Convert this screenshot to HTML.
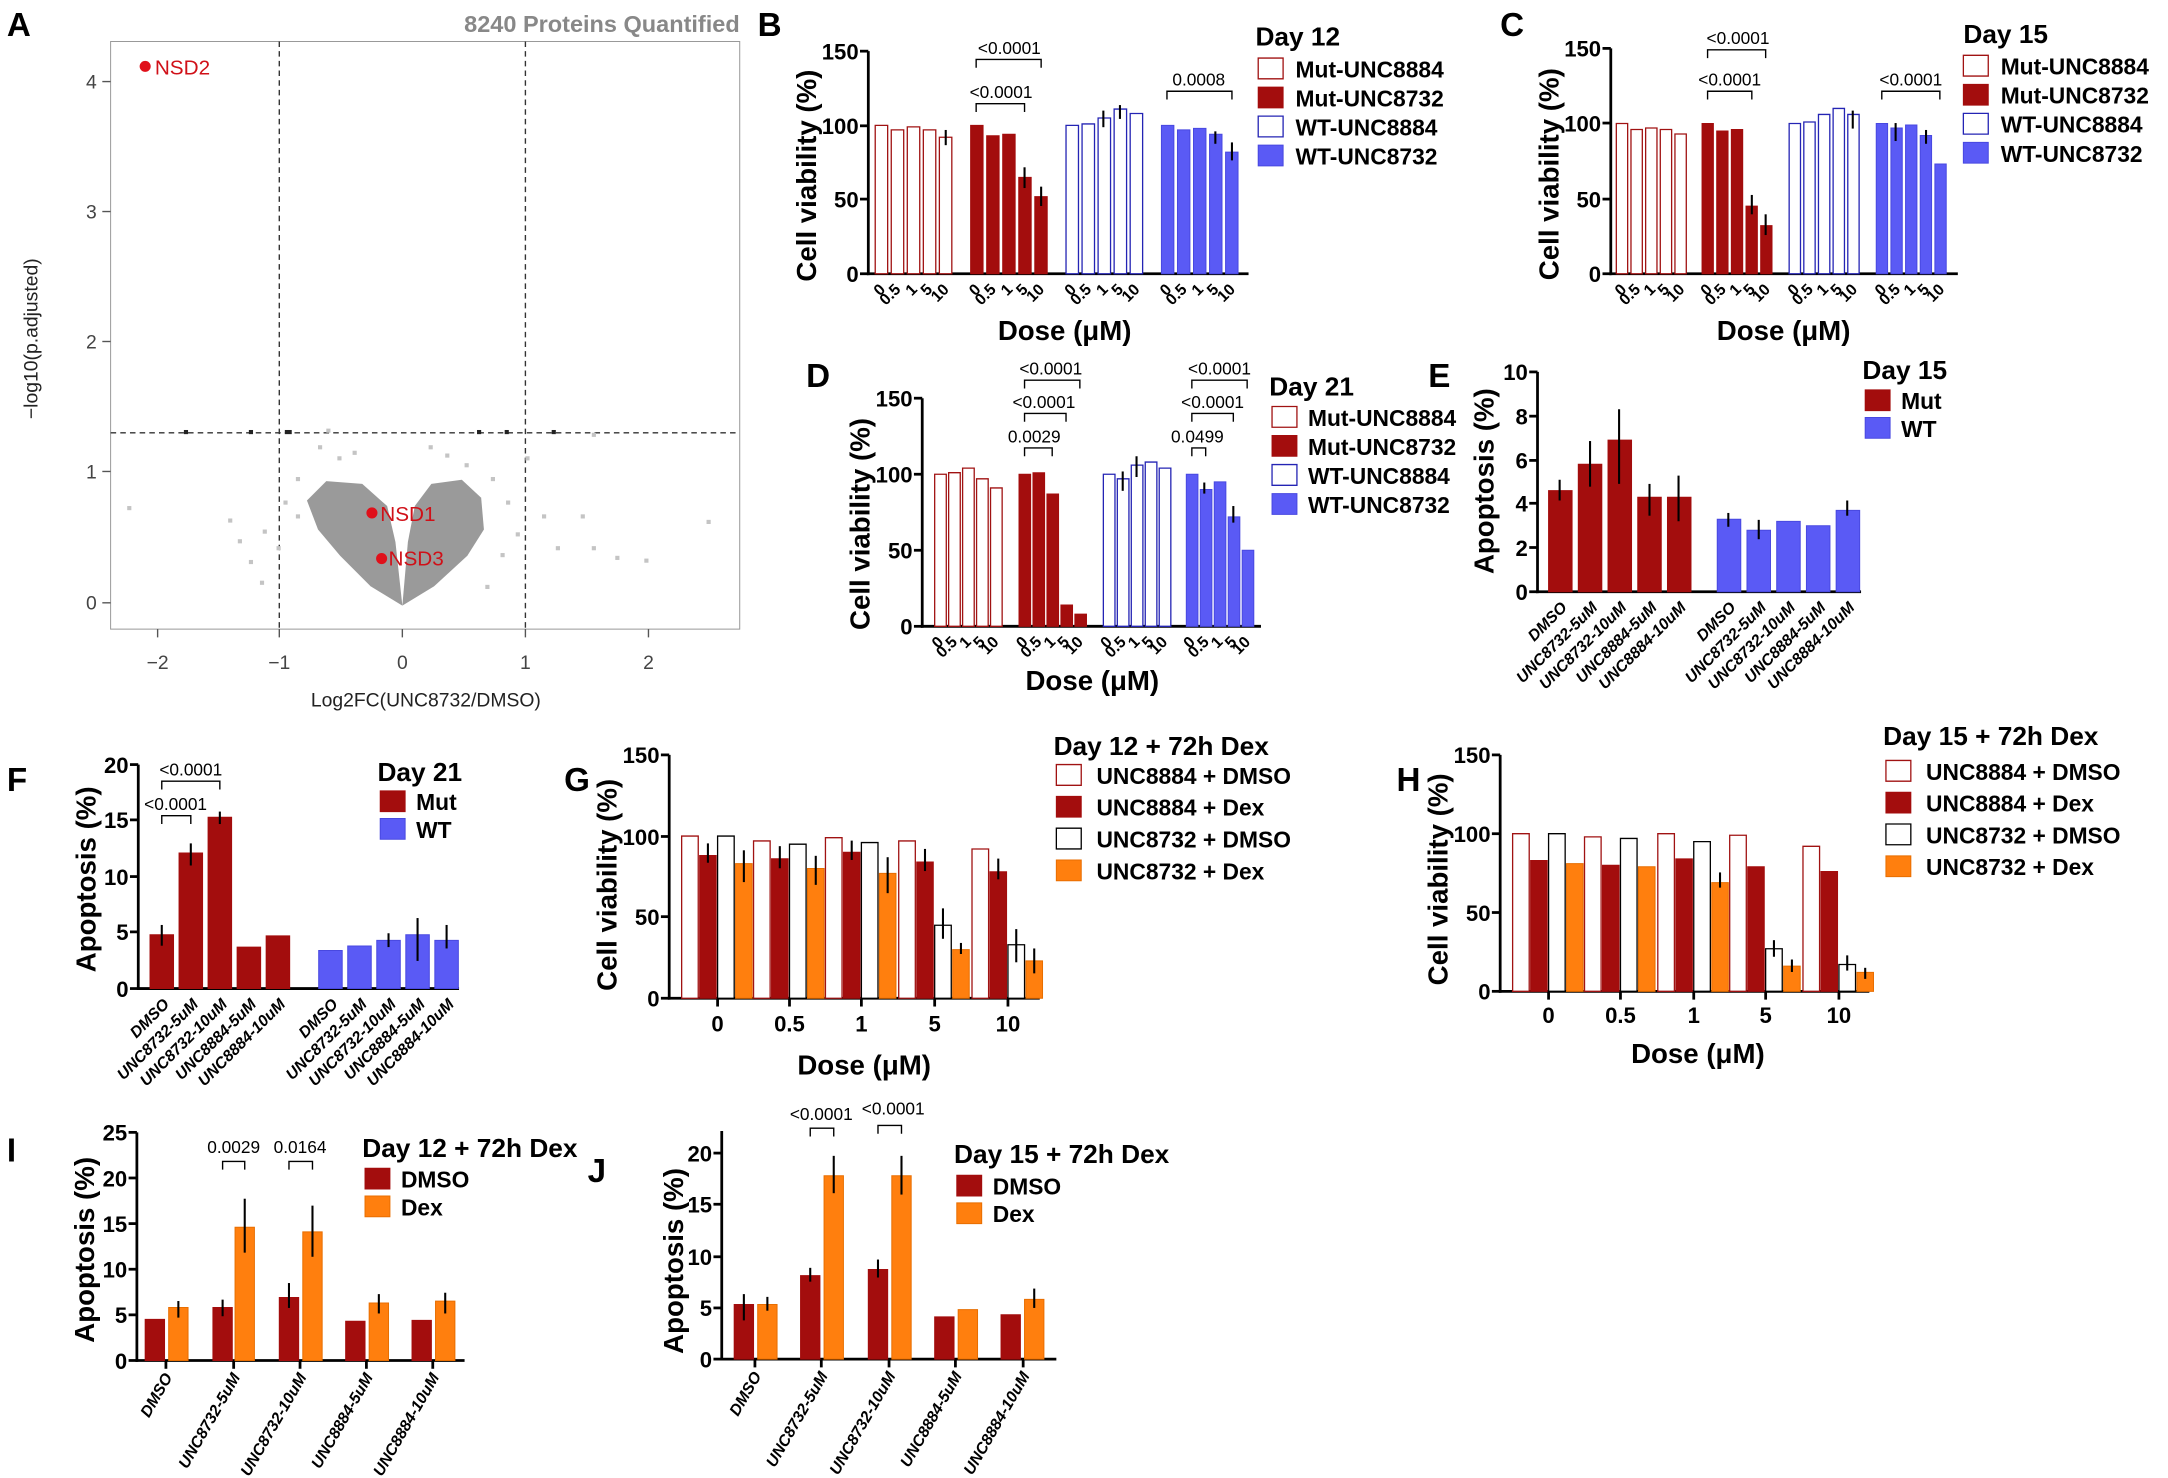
<!DOCTYPE html>
<html><head><meta charset="utf-8"><style>
body{margin:0;background:#fff}
svg{display:block}
text{font-family:"Liberation Sans",Arial,sans-serif}
.b{font-weight:bold}
.L{font-weight:bold;font-size:24px}
.ax{stroke:#000;stroke-width:2;fill:none}
.tk{font-weight:bold;font-size:16px}
.lg{font-weight:bold;font-size:16.5px}
.yl{font-weight:bold;font-size:20px}
.rl{font-weight:bold;font-size:11.5px}
.it{font-style:italic}
.st{font-size:12.5px}
rect{vector-effect:non-scaling-stroke}
.or{fill:#fff;stroke:#a01212;stroke-width:1.3}
.fr{fill:#a30d0d;stroke:#a30d0d;stroke-width:1}
.ob{fill:#fff;stroke:#2424b4;stroke-width:1.3}
.fb{fill:#5a5af5;stroke:#4848e0;stroke-width:1}
.ok{fill:#fff;stroke:#000;stroke-width:1.3}
.fo{fill:#ff7f0e;stroke:#e86e00;stroke-width:1}
.br{stroke:#000;stroke-width:1;fill:none}
</style></head><body>
<svg width="2168" height="1478" viewBox="0 0 1568 1069" preserveAspectRatio="none">
<rect width="1568" height="1069" fill="#fff"/>
<text class="L" x="5" y="26">A</text><text class="L" x="548" y="26">B</text><text class="L" x="1085" y="26">C</text>
<text class="L" x="583" y="280">D</text><text class="L" x="1033" y="280">E</text><text class="L" x="5" y="572">F</text>
<text class="L" x="408" y="572">G</text><text class="L" x="1010" y="572">H</text><text class="L" x="5" y="840">I</text><text class="L" x="425" y="855">J</text>

<!-- Panel A -->
<text x="535" y="23" text-anchor="end" font-size="17" font-weight="bold" fill="#888">8240 Proteins Quantified</text>
<rect x="80" y="30" width="455" height="425" fill="none" stroke="#999" stroke-width="1"/>
<g stroke="#333" stroke-width="1" stroke-dasharray="4,3">
<line x1="202" y1="30" x2="202" y2="455"/><line x1="380" y1="30" x2="380" y2="455"/><line x1="80" y1="313" x2="535" y2="313"/></g>
<g stroke="#555" stroke-width="1">
<line x1="74" y1="436" x2="80" y2="436"/><line x1="74" y1="341" x2="80" y2="341"/><line x1="74" y1="247" x2="80" y2="247"/><line x1="74" y1="153" x2="80" y2="153"/><line x1="74" y1="59" x2="80" y2="59"/>
<line x1="114" y1="455" x2="114" y2="461"/><line x1="202" y1="455" x2="202" y2="461"/><line x1="291" y1="455" x2="291" y2="461"/><line x1="380" y1="455" x2="380" y2="461"/><line x1="469" y1="455" x2="469" y2="461"/></g>
<g font-size="14" fill="#444" text-anchor="end"><text x="70" y="441">0</text><text x="70" y="346">1</text><text x="70" y="252">2</text><text x="70" y="158">3</text><text x="70" y="64">4</text></g>
<g font-size="14" fill="#444" text-anchor="middle"><text x="114" y="484">−2</text><text x="202" y="484">−1</text><text x="291" y="484">0</text><text x="380" y="484">1</text><text x="469" y="484">2</text></g>
<text x="308" y="511" font-size="14" text-anchor="middle" fill="#222">Log2FC(UNC8732/DMSO)</text>
<text transform="translate(27,245) rotate(-90)" font-size="14" text-anchor="middle" fill="#222">−log10(p.adjusted)</text>
<g fill="#c4c4c4">
<rect x="230" y="322" width="3" height="3"/><rect x="244" y="330" width="3" height="3"/><rect x="255" y="326" width="3" height="3"/><rect x="214" y="345" width="3" height="3"/><rect x="205" y="362" width="3" height="3"/><rect x="190" y="383" width="3" height="3"/><rect x="180" y="405" width="3" height="3"/><rect x="200" y="395" width="3" height="3"/><rect x="214" y="372" width="3" height="3"/><rect x="92" y="366" width="3" height="3"/><rect x="165" y="375" width="3" height="3"/><rect x="172" y="390" width="3" height="3"/><rect x="188" y="420" width="3" height="3"/>
<rect x="310" y="322" width="3" height="3"/><rect x="322" y="328" width="3" height="3"/><rect x="336" y="335" width="3" height="3"/><rect x="355" y="345" width="3" height="3"/><rect x="366" y="362" width="3" height="3"/><rect x="373" y="385" width="3" height="3"/><rect x="362" y="400" width="3" height="3"/><rect x="380" y="330" width="3" height="3"/><rect x="392" y="372" width="3" height="3"/><rect x="402" y="395" width="3" height="3"/><rect x="420" y="372" width="3" height="3"/><rect x="428" y="395" width="3" height="3"/><rect x="445" y="402" width="3" height="3"/><rect x="466" y="404" width="3" height="3"/><rect x="511" y="376" width="3" height="3"/><rect x="428" y="313" width="3" height="3"/><rect x="351" y="423" width="3" height="3"/><rect x="236" y="310" width="3" height="3"/>
</g>
<g fill="#9a9a9a">
<path d="M291,438 L268,424 L246,402 L230,383 L222,362 L236,348 L262,350 L280,366 L286,392 Z"/>
<path d="M291,438 L314,424 L338,402 L350,383 L348,360 L334,347 L312,350 L300,366 L295,392 Z"/>
</g>
<g fill="#222"><rect x="133" y="311" width="3" height="3"/><rect x="180" y="311" width="3" height="3"/><rect x="206" y="311" width="5" height="3"/><rect x="345" y="311" width="3" height="3"/><rect x="365" y="311" width="3" height="3"/><rect x="399" y="311" width="3" height="3"/></g>
<g fill="#e0101a"><circle cx="105" cy="48" r="4"/><circle cx="269" cy="371" r="4"/><circle cx="276" cy="404" r="4"/></g>
<g fill="#d01018" font-size="15"><text x="112" y="54">NSD2</text><text x="275" y="377">NSD1</text><text x="281" y="409">NSD3</text></g>

<!-- Panel B -->
<line class="ax" x1="628" y1="37" x2="628" y2="199"/><line class="ax" x1="627" y1="198" x2="903" y2="198"/>
<g stroke="#000" stroke-width="2"><line x1="622" y1="37" x2="628" y2="37"/><line x1="622" y1="91" x2="628" y2="91"/><line x1="622" y1="144" x2="628" y2="144"/><line x1="622" y1="198" x2="628" y2="198"/></g>
<g class="tk" text-anchor="end"><text x="621" y="43">150</text><text x="621" y="97">100</text><text x="621" y="150">50</text><text x="621" y="204">0</text></g>
<text class="yl" transform="translate(590,127) rotate(-90)" text-anchor="middle">Cell viability (%)</text>
<text class="yl" x="770" y="246" text-anchor="middle" font-size="17">Dose (μM)</text>
<g transform="translate(0,198) scale(1,-1.073)">
<rect class="or" x="633" y="0" width="9" height="100"/><rect class="or" x="644.6" y="0" width="9" height="97"/><rect class="or" x="656.2" y="0" width="9" height="99"/><rect class="or" x="667.8" y="0" width="9" height="97"/><rect class="or" x="679.4" y="0" width="9" height="92"/>
<rect class="fr" x="702" y="0" width="9" height="100"/><rect class="fr" x="713.6" y="0" width="9" height="93"/><rect class="fr" x="725.2" y="0" width="9" height="94"/><rect class="fr" x="736.8" y="0" width="9" height="65"/><rect class="fr" x="748.4" y="0" width="9" height="52"/>
<rect class="ob" x="771" y="0" width="9" height="100"/><rect class="ob" x="782.6" y="0" width="9" height="101"/><rect class="ob" x="794.2" y="0" width="9" height="105"/><rect class="ob" x="805.8" y="0" width="9" height="111"/><rect class="ob" x="817.4" y="0" width="9" height="108"/>
<rect class="fb" x="840" y="0" width="9" height="100"/><rect class="fb" x="851.6" y="0" width="9" height="97"/><rect class="fb" x="863.2" y="0" width="9" height="98"/><rect class="fb" x="874.8" y="0" width="9" height="94"/><rect class="fb" x="886.4" y="0" width="9" height="82"/>
</g>
<g stroke="#000" stroke-width="1.5"><line x1="741" y1="121" x2="741" y2="136"/><line x1="753" y1="135" x2="753" y2="149"/><line x1="891" y1="103" x2="891" y2="116"/><line x1="879" y1="95" x2="879" y2="104"/><line x1="684" y1="94" x2="684" y2="105"/><line x1="810" y1="76" x2="810" y2="86"/><line x1="798" y1="80" x2="798" y2="92"/></g>
<g class="br"><path d="M706,49 V43 H753 V49"/><path d="M706,81 V75 H741 V81"/><path d="M844,72 V66 H891 V72"/></g>
<g class="st" text-anchor="middle"><text x="730" y="39">&lt;0.0001</text><text x="724" y="71">&lt;0.0001</text><text x="867" y="62">0.0008</text></g>
<g class="rl" text-anchor="end">
<text transform="translate(641,210) rotate(-45)">0</text><text transform="translate(652,210) rotate(-45)">0.5</text><text transform="translate(664,210) rotate(-45)">1</text><text transform="translate(675,210) rotate(-45)">5</text><text transform="translate(687,210) rotate(-45)">10</text>
<text transform="translate(710,210) rotate(-45)">0</text><text transform="translate(721,210) rotate(-45)">0.5</text><text transform="translate(733,210) rotate(-45)">1</text><text transform="translate(744,210) rotate(-45)">5</text><text transform="translate(756,210) rotate(-45)">10</text>
<text transform="translate(779,210) rotate(-45)">0</text><text transform="translate(790,210) rotate(-45)">0.5</text><text transform="translate(802,210) rotate(-45)">1</text><text transform="translate(813,210) rotate(-45)">5</text><text transform="translate(825,210) rotate(-45)">10</text>
<text transform="translate(848,210) rotate(-45)">0</text><text transform="translate(859,210) rotate(-45)">0.5</text><text transform="translate(871,210) rotate(-45)">1</text><text transform="translate(882,210) rotate(-45)">5</text><text transform="translate(894,210) rotate(-45)">10</text>
</g>
<text class="b" x="908" y="33" font-size="19">Day 12</text>
<rect class="or" x="910" y="42" width="18" height="15"/><rect class="fr" x="910" y="63" width="18" height="15"/><rect class="ob" x="910" y="84" width="18" height="15"/><rect class="fb" x="910" y="105" width="18" height="15"/>
<g class="lg"><text x="937" y="56">Mut-UNC8884</text><text x="937" y="77">Mut-UNC8732</text><text x="937" y="98">WT-UNC8884</text><text x="937" y="119">WT-UNC8732</text></g>

<!-- Panel C -->
<line class="ax" x1="1165" y1="35" x2="1165" y2="199"/><line class="ax" x1="1164" y1="198" x2="1416" y2="198"/>
<g stroke="#000" stroke-width="2"><line x1="1159" y1="35" x2="1165" y2="35"/><line x1="1159" y1="89" x2="1165" y2="89"/><line x1="1159" y1="144" x2="1165" y2="144"/><line x1="1159" y1="198" x2="1165" y2="198"/></g>
<g class="tk" text-anchor="end"><text x="1158" y="41">150</text><text x="1158" y="95">100</text><text x="1158" y="150">50</text><text x="1158" y="204">0</text></g>
<text class="yl" transform="translate(1127,126) rotate(-90)" text-anchor="middle">Cell viability (%)</text>
<text class="yl" x="1290" y="246" text-anchor="middle" font-size="17">Dose (μM)</text>
<g transform="translate(0,198) scale(1,-1.087)">
<rect class="or" x="1169" y="0" width="8.2" height="100"/><rect class="or" x="1179.6" y="0" width="8.2" height="96"/><rect class="or" x="1190.2" y="0" width="8.2" height="97"/><rect class="or" x="1200.8" y="0" width="8.2" height="96"/><rect class="or" x="1211.4" y="0" width="8.2" height="93"/>
<rect class="fr" x="1231" y="0" width="8.2" height="100"/><rect class="fr" x="1241.6" y="0" width="8.2" height="95"/><rect class="fr" x="1252.2" y="0" width="8.2" height="96"/><rect class="fr" x="1262.8" y="0" width="8.2" height="45"/><rect class="fr" x="1273.4" y="0" width="8.2" height="32"/>
<rect class="ob" x="1294" y="0" width="8.2" height="100"/><rect class="ob" x="1304.6" y="0" width="8.2" height="101"/><rect class="ob" x="1315.2" y="0" width="8.2" height="106"/><rect class="ob" x="1325.8" y="0" width="8.2" height="110"/><rect class="ob" x="1336.4" y="0" width="8.2" height="106"/>
<rect class="fb" x="1357" y="0" width="8.2" height="100"/><rect class="fb" x="1367.6" y="0" width="8.2" height="97"/><rect class="fb" x="1378.2" y="0" width="8.2" height="99"/><rect class="fb" x="1388.8" y="0" width="8.2" height="92"/><rect class="fb" x="1399.4" y="0" width="8.2" height="73"/>
</g>
<g stroke="#000" stroke-width="1.5"><line x1="1267" y1="141" x2="1267" y2="155"/><line x1="1277" y1="155" x2="1277" y2="170"/><line x1="1340" y1="80" x2="1340" y2="93"/><line x1="1371" y1="89" x2="1371" y2="102"/><line x1="1393" y1="94" x2="1393" y2="104"/></g>
<g class="br"><path d="M1235,42 V36 H1277 V42"/><path d="M1235,72 V66 H1267 V72"/><path d="M1361,72 V66 H1403 V72"/></g>
<g class="st" text-anchor="middle"><text x="1257" y="32">&lt;0.0001</text><text x="1251" y="62">&lt;0.0001</text><text x="1382" y="62">&lt;0.0001</text></g>
<g class="rl" text-anchor="end">
<text transform="translate(1177,210) rotate(-45)">0</text><text transform="translate(1187,210) rotate(-45)">0.5</text><text transform="translate(1198,210) rotate(-45)">1</text><text transform="translate(1208,210) rotate(-45)">5</text><text transform="translate(1219,210) rotate(-45)">10</text>
<text transform="translate(1239,210) rotate(-45)">0</text><text transform="translate(1249,210) rotate(-45)">0.5</text><text transform="translate(1260,210) rotate(-45)">1</text><text transform="translate(1270,210) rotate(-45)">5</text><text transform="translate(1281,210) rotate(-45)">10</text>
<text transform="translate(1302,210) rotate(-45)">0</text><text transform="translate(1312,210) rotate(-45)">0.5</text><text transform="translate(1323,210) rotate(-45)">1</text><text transform="translate(1333,210) rotate(-45)">5</text><text transform="translate(1344,210) rotate(-45)">10</text>
<text transform="translate(1365,210) rotate(-45)">0</text><text transform="translate(1375,210) rotate(-45)">0.5</text><text transform="translate(1386,210) rotate(-45)">1</text><text transform="translate(1396,210) rotate(-45)">5</text><text transform="translate(1407,210) rotate(-45)">10</text>
</g>
<text class="b" x="1420" y="31" font-size="19">Day 15</text>
<rect class="or" x="1420" y="40" width="18" height="15"/><rect class="fr" x="1420" y="61" width="18" height="15"/><rect class="ob" x="1420" y="82" width="18" height="15"/><rect class="fb" x="1420" y="103" width="18" height="15"/>
<g class="lg"><text x="1447" y="54">Mut-UNC8884</text><text x="1447" y="75">Mut-UNC8732</text><text x="1447" y="96">WT-UNC8884</text><text x="1447" y="117">WT-UNC8732</text></g>

<!-- Panel D -->
<line class="ax" x1="667" y1="288" x2="667" y2="454"/><line class="ax" x1="666" y1="453" x2="912" y2="453"/>
<g stroke="#000" stroke-width="2"><line x1="661" y1="288" x2="667" y2="288"/><line x1="661" y1="343" x2="667" y2="343"/><line x1="661" y1="398" x2="667" y2="398"/><line x1="661" y1="453" x2="667" y2="453"/></g>
<g class="tk" text-anchor="end"><text x="660" y="294">150</text><text x="660" y="349">100</text><text x="660" y="404">50</text><text x="660" y="459">0</text></g>
<text class="yl" transform="translate(629,379) rotate(-90)" text-anchor="middle">Cell viability (%)</text>
<text class="yl" x="790" y="499" text-anchor="middle" font-size="17">Dose (μM)</text>
<g transform="translate(0,453) scale(1,-1.1)">
<rect class="or" x="676" y="0" width="8.4" height="100"/><rect class="or" x="686.1" y="0" width="8.4" height="101"/><rect class="or" x="696.2" y="0" width="8.4" height="104"/><rect class="or" x="706.3" y="0" width="8.4" height="97"/><rect class="or" x="716.4" y="0" width="8.4" height="91"/>
<rect class="fr" x="737" y="0" width="8.4" height="100"/><rect class="fr" x="747.1" y="0" width="8.4" height="101"/><rect class="fr" x="757.2" y="0" width="8.4" height="87"/><rect class="fr" x="767.3" y="0" width="8.4" height="14"/><rect class="fr" x="777.4" y="0" width="8.4" height="8"/>
<rect class="ob" x="798" y="0" width="8.4" height="100"/><rect class="ob" x="808.1" y="0" width="8.4" height="97"/><rect class="ob" x="818.2" y="0" width="8.4" height="106"/><rect class="ob" x="828.3" y="0" width="8.4" height="108"/><rect class="ob" x="838.4" y="0" width="8.4" height="104"/>
<rect class="fb" x="858" y="0" width="8.4" height="100"/><rect class="fb" x="868.1" y="0" width="8.4" height="90"/><rect class="fb" x="878.2" y="0" width="8.4" height="95"/><rect class="fb" x="888.3" y="0" width="8.4" height="72"/><rect class="fb" x="898.4" y="0" width="8.4" height="50"/>
</g>
<g stroke="#000" stroke-width="1.5"><line x1="892" y1="366" x2="892" y2="378"/><line x1="822" y1="330" x2="822" y2="345"/><line x1="812" y1="341" x2="812" y2="355"/><line x1="871" y1="349" x2="871" y2="357"/></g>
<g class="br"><path d="M741,281 V275 H781 V281"/><path d="M741,305 V299 H771 V305"/><path d="M741,330 V324 H761 V330"/><path d="M862,281 V275 H902 V281"/><path d="M862,305 V299 H892 V305"/><path d="M862,330 V324 H872 V330"/></g>
<g class="st" text-anchor="middle"><text x="760" y="271">&lt;0.0001</text><text x="755" y="295">&lt;0.0001</text><text x="748" y="320">0.0029</text><text x="882" y="271">&lt;0.0001</text><text x="877" y="295">&lt;0.0001</text><text x="866" y="320">0.0499</text></g>
<g class="rl" text-anchor="end">
<text transform="translate(683,465) rotate(-45)">0</text><text transform="translate(693,465) rotate(-45)">0.5</text><text transform="translate(703,465) rotate(-45)">1</text><text transform="translate(713,465) rotate(-45)">5</text><text transform="translate(723,465) rotate(-45)">10</text>
<text transform="translate(744,465) rotate(-45)">0</text><text transform="translate(754,465) rotate(-45)">0.5</text><text transform="translate(764,465) rotate(-45)">1</text><text transform="translate(774,465) rotate(-45)">5</text><text transform="translate(784,465) rotate(-45)">10</text>
<text transform="translate(805,465) rotate(-45)">0</text><text transform="translate(815,465) rotate(-45)">0.5</text><text transform="translate(825,465) rotate(-45)">1</text><text transform="translate(835,465) rotate(-45)">5</text><text transform="translate(845,465) rotate(-45)">10</text>
<text transform="translate(865,465) rotate(-45)">0</text><text transform="translate(875,465) rotate(-45)">0.5</text><text transform="translate(885,465) rotate(-45)">1</text><text transform="translate(895,465) rotate(-45)">5</text><text transform="translate(905,465) rotate(-45)">10</text>
</g>
<text class="b" x="918" y="286" font-size="19">Day 21</text>
<rect class="or" x="920" y="294" width="18" height="15"/><rect class="fr" x="920" y="315" width="18" height="15"/><rect class="ob" x="920" y="336" width="18" height="15"/><rect class="fb" x="920" y="357" width="18" height="15"/>
<g class="lg"><text x="946" y="308">Mut-UNC8884</text><text x="946" y="329">Mut-UNC8732</text><text x="946" y="350">WT-UNC8884</text><text x="946" y="371">WT-UNC8732</text></g>

<!-- Panel E -->
<line class="ax" x1="1112" y1="269" x2="1112" y2="429"/><line class="ax" x1="1111" y1="428" x2="1346" y2="428"/>
<g stroke="#000" stroke-width="2"><line x1="1106" y1="269" x2="1112" y2="269"/><line x1="1106" y1="301" x2="1112" y2="301"/><line x1="1106" y1="333" x2="1112" y2="333"/><line x1="1106" y1="364" x2="1112" y2="364"/><line x1="1106" y1="396" x2="1112" y2="396"/><line x1="1106" y1="428" x2="1112" y2="428"/></g>
<g class="tk" text-anchor="end"><text x="1105" y="275">10</text><text x="1105" y="307">8</text><text x="1105" y="339">6</text><text x="1105" y="370">4</text><text x="1105" y="402">2</text><text x="1105" y="434">0</text></g>
<text class="yl" transform="translate(1080,348) rotate(-90)" text-anchor="middle">Apoptosis (%)</text>
<g transform="translate(0,428) scale(1,-15.9)">
<rect class="fr" x="1120" y="0" width="17" height="4.6"/><rect class="fr" x="1141.5" y="0" width="17" height="5.8"/><rect class="fr" x="1163" y="0" width="17" height="6.9"/><rect class="fr" x="1184.5" y="0" width="17" height="4.3"/><rect class="fr" x="1206" y="0" width="17" height="4.3"/>
<rect class="fb" x="1242" y="0" width="17" height="3.3"/><rect class="fb" x="1263.5" y="0" width="17" height="2.8"/><rect class="fb" x="1285" y="0" width="17" height="3.2"/><rect class="fb" x="1306.5" y="0" width="17" height="3.0"/><rect class="fb" x="1328" y="0" width="17" height="3.7"/>
</g>
<g stroke="#000" stroke-width="1.5"><line x1="1128" y1="347" x2="1128" y2="362"/><line x1="1150" y1="319" x2="1150" y2="352"/><line x1="1171" y1="296" x2="1171" y2="350"/><line x1="1193" y1="350" x2="1193" y2="373"/><line x1="1214" y1="344" x2="1214" y2="377"/><line x1="1272" y1="376" x2="1272" y2="390"/><line x1="1250" y1="371" x2="1250" y2="381"/><line x1="1336" y1="362" x2="1336" y2="373"/></g>
<g class="rl it" text-anchor="end">
<text transform="translate(1134,440) rotate(-45)">DMSO</text><text transform="translate(1156,440) rotate(-45)">UNC8732-5uM</text><text transform="translate(1177,440) rotate(-45)">UNC8732-10uM</text><text transform="translate(1199,440) rotate(-45)">UNC8884-5uM</text><text transform="translate(1220,440) rotate(-45)">UNC8884-10uM</text>
<text transform="translate(1256,440) rotate(-45)">DMSO</text><text transform="translate(1278,440) rotate(-45)">UNC8732-5uM</text><text transform="translate(1299,440) rotate(-45)">UNC8732-10uM</text><text transform="translate(1321,440) rotate(-45)">UNC8884-5uM</text><text transform="translate(1342,440) rotate(-45)">UNC8884-10uM</text>
</g>
<text class="b" x="1347" y="274" font-size="19">Day 15</text>
<rect class="fr" x="1349" y="282" width="18" height="15"/><rect class="fb" x="1349" y="302" width="18" height="15"/>
<g class="lg"><text x="1375" y="296">Mut</text><text x="1375" y="316">WT</text></g>

<!-- Panel F -->
<line class="ax" x1="100" y1="553" x2="100" y2="716"/><line class="ax" x1="99" y1="715" x2="332" y2="715"/>
<g stroke="#000" stroke-width="2"><line x1="94" y1="553" x2="100" y2="553"/><line x1="94" y1="593" x2="100" y2="593"/><line x1="94" y1="634" x2="100" y2="634"/><line x1="94" y1="674" x2="100" y2="674"/><line x1="94" y1="715" x2="100" y2="715"/></g>
<g class="tk" text-anchor="end"><text x="93" y="559">20</text><text x="93" y="599">15</text><text x="93" y="640">10</text><text x="93" y="680">5</text><text x="93" y="721">0</text></g>
<text class="yl" transform="translate(69,636) rotate(-90)" text-anchor="middle">Apoptosis (%)</text>
<g transform="translate(0,715) scale(1,-8.1)">
<rect class="fr" x="108.5" y="0" width="17" height="4.8"/><rect class="fr" x="129.5" y="0" width="17" height="12.1"/><rect class="fr" x="150.5" y="0" width="17" height="15.3"/><rect class="fr" x="171.5" y="0" width="17" height="3.7"/><rect class="fr" x="192.5" y="0" width="17" height="4.7"/>
<rect class="fb" x="230.5" y="0" width="17" height="3.4"/><rect class="fb" x="251.5" y="0" width="17" height="3.8"/><rect class="fb" x="272.5" y="0" width="17" height="4.3"/><rect class="fb" x="293.5" y="0" width="17" height="4.8"/><rect class="fb" x="314.5" y="0" width="17" height="4.3"/>
</g>
<g stroke="#000" stroke-width="1.5"><line x1="117" y1="669" x2="117" y2="684"/><line x1="138" y1="610" x2="138" y2="626"/><line x1="159" y1="587" x2="159" y2="596"/><line x1="302" y1="664" x2="302" y2="695"/><line x1="323" y1="669" x2="323" y2="686"/><line x1="281" y1="675" x2="281" y2="685"/></g>
<g class="br"><path d="M117,571 V565 H159 V571"/><path d="M117,596 V590 H138 V596"/></g>
<g class="st" text-anchor="middle"><text x="138" y="561">&lt;0.0001</text><text x="127" y="586">&lt;0.0001</text></g>
<g class="rl it" text-anchor="end">
<text transform="translate(123,727) rotate(-45)">DMSO</text><text transform="translate(144,727) rotate(-45)">UNC8732-5uM</text><text transform="translate(165,727) rotate(-45)">UNC8732-10uM</text><text transform="translate(186,727) rotate(-45)">UNC8884-5uM</text><text transform="translate(207,727) rotate(-45)">UNC8884-10uM</text>
<text transform="translate(245,727) rotate(-45)">DMSO</text><text transform="translate(266,727) rotate(-45)">UNC8732-5uM</text><text transform="translate(287,727) rotate(-45)">UNC8732-10uM</text><text transform="translate(308,727) rotate(-45)">UNC8884-5uM</text><text transform="translate(329,727) rotate(-45)">UNC8884-10uM</text>
</g>
<text class="b" x="273" y="565" font-size="19">Day 21</text>
<rect class="fr" x="275" y="572" width="18" height="15"/><rect class="fb" x="275" y="592" width="18" height="15"/>
<g class="lg"><text x="301" y="586">Mut</text><text x="301" y="606">WT</text></g>

<!-- Panel G -->
<line class="ax" x1="484" y1="546" x2="484" y2="723"/><line class="ax" x1="483" y1="722" x2="752" y2="722"/>
<g stroke="#000" stroke-width="2"><line x1="478" y1="546" x2="484" y2="546"/><line x1="478" y1="605" x2="484" y2="605"/><line x1="478" y1="663" x2="484" y2="663"/><line x1="478" y1="722" x2="484" y2="722"/>
<line x1="519" y1="722" x2="519" y2="728"/><line x1="571" y1="722" x2="571" y2="728"/><line x1="623" y1="722" x2="623" y2="728"/><line x1="676" y1="722" x2="676" y2="728"/><line x1="729" y1="722" x2="729" y2="728"/></g>
<g class="tk" text-anchor="end"><text x="477" y="552">150</text><text x="477" y="611">100</text><text x="477" y="669">50</text><text x="477" y="728">0</text></g>
<g class="tk" text-anchor="middle" font-size="13"><text x="519" y="746">0</text><text x="571" y="746">0.5</text><text x="623" y="746">1</text><text x="676" y="746">5</text><text x="729" y="746">10</text></g>
<text class="yl" transform="translate(446,640) rotate(-90)" text-anchor="middle">Cell viability (%)</text>
<text class="yl" x="625" y="777" text-anchor="middle" font-size="17">Dose (μM)</text>
<g transform="translate(0,722) scale(1,-1.173)">
<rect class="or" x="493" y="0" width="12" height="100"/><rect class="fr" x="506" y="0" width="12" height="88"/><rect class="ok" x="519" y="0" width="12" height="100"/><rect class="fo" x="532" y="0" width="12" height="83"/>
<rect class="or" x="545" y="0" width="12" height="97"/><rect class="fr" x="558" y="0" width="12" height="86"/><rect class="ok" x="571" y="0" width="12" height="95"/><rect class="fo" x="584" y="0" width="12" height="80"/>
<rect class="or" x="597" y="0" width="12" height="99"/><rect class="fr" x="610" y="0" width="12" height="90"/><rect class="ok" x="623" y="0" width="12" height="96"/><rect class="fo" x="636" y="0" width="12" height="77"/>
<rect class="or" x="650" y="0" width="12" height="97"/><rect class="fr" x="663" y="0" width="12" height="84"/><rect class="ok" x="676" y="0" width="12" height="45"/><rect class="fo" x="689" y="0" width="12" height="30"/>
<rect class="or" x="703" y="0" width="12" height="92"/><rect class="fr" x="716" y="0" width="12" height="78"/><rect class="ok" x="729" y="0" width="12" height="33"/><rect class="fo" x="742" y="0" width="12" height="23"/>
</g>
<g stroke="#000" stroke-width="1.5"><line x1="512" y1="610" x2="512" y2="624"/><line x1="538" y1="615" x2="538" y2="638"/><line x1="590" y1="619" x2="590" y2="640"/><line x1="642" y1="620" x2="642" y2="646"/><line x1="682" y1="657" x2="682" y2="679"/><line x1="695" y1="682" x2="695" y2="690"/><line x1="735" y1="672" x2="735" y2="696"/><line x1="748" y1="686" x2="748" y2="704"/><line x1="564" y1="612" x2="564" y2="628"/><line x1="616" y1="608" x2="616" y2="622"/><line x1="669" y1="614" x2="669" y2="630"/><line x1="722" y1="621" x2="722" y2="636"/></g>
<text class="b" x="762" y="546" font-size="19">Day 12 + 72h Dex</text>
<rect class="or" x="764" y="553" width="18" height="15"/><rect class="fr" x="764" y="576" width="18" height="15"/><rect class="ok" x="764" y="599" width="18" height="15"/><rect class="fo" x="764" y="622" width="18" height="15"/>
<g class="lg"><text x="793" y="567">UNC8884 + DMSO</text><text x="793" y="590">UNC8884 + Dex</text><text x="793" y="613">UNC8732 + DMSO</text><text x="793" y="636">UNC8732 + Dex</text></g>

<!-- Panel H -->
<line class="ax" x1="1085" y1="546" x2="1085" y2="718"/><line class="ax" x1="1084" y1="717" x2="1352" y2="717"/>
<g stroke="#000" stroke-width="2"><line x1="1079" y1="546" x2="1085" y2="546"/><line x1="1079" y1="603" x2="1085" y2="603"/><line x1="1079" y1="660" x2="1085" y2="660"/><line x1="1079" y1="717" x2="1085" y2="717"/>
<line x1="1120" y1="717" x2="1120" y2="723"/><line x1="1172" y1="717" x2="1172" y2="723"/><line x1="1225" y1="717" x2="1225" y2="723"/><line x1="1277" y1="717" x2="1277" y2="723"/><line x1="1330" y1="717" x2="1330" y2="723"/></g>
<g class="tk" text-anchor="end"><text x="1078" y="552">150</text><text x="1078" y="609">100</text><text x="1078" y="666">50</text><text x="1078" y="723">0</text></g>
<g class="tk" text-anchor="middle" font-size="13"><text x="1120" y="740">0</text><text x="1172" y="740">0.5</text><text x="1225" y="740">1</text><text x="1277" y="740">5</text><text x="1330" y="740">10</text></g>
<text class="yl" transform="translate(1047,636) rotate(-90)" text-anchor="middle">Cell viability (%)</text>
<text class="yl" x="1228" y="769" text-anchor="middle" font-size="17">Dose (μM)</text>
<g transform="translate(0,717) scale(1,-1.14)">
<rect class="or" x="1094" y="0" width="12" height="100"/><rect class="fr" x="1107" y="0" width="12" height="83"/><rect class="ok" x="1120" y="0" width="12" height="100"/><rect class="fo" x="1133" y="0" width="12" height="81"/>
<rect class="or" x="1146" y="0" width="12" height="98"/><rect class="fr" x="1159" y="0" width="12" height="80"/><rect class="ok" x="1172" y="0" width="12" height="97"/><rect class="fo" x="1185" y="0" width="12" height="79"/>
<rect class="or" x="1199" y="0" width="12" height="100"/><rect class="fr" x="1212" y="0" width="12" height="84"/><rect class="ok" x="1225" y="0" width="12" height="95"/><rect class="fo" x="1238" y="0" width="12" height="69"/>
<rect class="or" x="1251" y="0" width="12" height="99"/><rect class="fr" x="1264" y="0" width="12" height="79"/><rect class="ok" x="1277" y="0" width="12" height="27"/><rect class="fo" x="1290" y="0" width="12" height="16"/>
<rect class="or" x="1304" y="0" width="12" height="92"/><rect class="fr" x="1317" y="0" width="12" height="76"/><rect class="ok" x="1330" y="0" width="12" height="17"/><rect class="fo" x="1343" y="0" width="12" height="12"/>
</g>
<g stroke="#000" stroke-width="1.5"><line x1="1244" y1="631" x2="1244" y2="642"/><line x1="1283" y1="680" x2="1283" y2="692"/><line x1="1296" y1="694" x2="1296" y2="703"/><line x1="1336" y1="691" x2="1336" y2="702"/><line x1="1349" y1="700" x2="1349" y2="708"/></g>
<text class="b" x="1362" y="539" font-size="19">Day 15 + 72h Dex</text>
<rect class="or" x="1364" y="550" width="18" height="15"/><rect class="fr" x="1364" y="573" width="18" height="15"/><rect class="ok" x="1364" y="596" width="18" height="15"/><rect class="fo" x="1364" y="619" width="18" height="15"/>
<g class="lg"><text x="1393" y="564">UNC8884 + DMSO</text><text x="1393" y="587">UNC8884 + Dex</text><text x="1393" y="610">UNC8732 + DMSO</text><text x="1393" y="633">UNC8732 + Dex</text></g>

<!-- Panel I -->
<line class="ax" x1="99" y1="819" x2="99" y2="985"/><line class="ax" x1="98" y1="984" x2="336" y2="984"/>
<g stroke="#000" stroke-width="2"><line x1="93" y1="819" x2="99" y2="819"/><line x1="93" y1="852" x2="99" y2="852"/><line x1="93" y1="885" x2="99" y2="885"/><line x1="93" y1="918" x2="99" y2="918"/><line x1="93" y1="951" x2="99" y2="951"/><line x1="93" y1="984" x2="99" y2="984"/>
<line x1="120" y1="984" x2="120" y2="990"/><line x1="169" y1="984" x2="169" y2="990"/><line x1="217" y1="984" x2="217" y2="990"/><line x1="265" y1="984" x2="265" y2="990"/><line x1="313" y1="984" x2="313" y2="990"/></g>
<g class="tk" text-anchor="end"><text x="92" y="825">25</text><text x="92" y="858">20</text><text x="92" y="891">15</text><text x="92" y="924">10</text><text x="92" y="957">5</text><text x="92" y="990">0</text></g>
<text class="yl" transform="translate(68,904) rotate(-90)" text-anchor="middle">Apoptosis (%)</text>
<g transform="translate(0,984) scale(1,-6.6)">
<rect class="fr" x="105" y="0" width="14" height="4.5"/><rect class="fo" x="122" y="0" width="14" height="5.8"/>
<rect class="fr" x="154" y="0" width="14" height="5.8"/><rect class="fo" x="170" y="0" width="14" height="14.6"/>
<rect class="fr" x="202" y="0" width="14" height="6.9"/><rect class="fo" x="219" y="0" width="14" height="14.1"/>
<rect class="fr" x="250" y="0" width="14" height="4.3"/><rect class="fo" x="267" y="0" width="14" height="6.3"/>
<rect class="fr" x="298" y="0" width="14" height="4.4"/><rect class="fo" x="315" y="0" width="14" height="6.5"/>
</g>
<g stroke="#000" stroke-width="1.5"><line x1="177" y1="867" x2="177" y2="906"/><line x1="226" y1="872" x2="226" y2="909"/><line x1="209" y1="928" x2="209" y2="946"/><line x1="161" y1="940" x2="161" y2="952"/><line x1="129" y1="941" x2="129" y2="953"/><line x1="274" y1="936" x2="274" y2="950"/><line x1="322" y1="935" x2="322" y2="950"/></g>
<g class="br"><path d="M161,846 V840 H177 V846"/><path d="M209,846 V840 H226 V846"/></g>
<g class="st" text-anchor="middle"><text x="169" y="834">0.0029</text><text x="217" y="834">0.0164</text></g>
<g class="rl it" text-anchor="end">
<text transform="translate(125,996) rotate(-60)">DMSO</text><text transform="translate(174,996) rotate(-60)">UNC8732-5uM</text><text transform="translate(222,996) rotate(-60)">UNC8732-10uM</text><text transform="translate(270,996) rotate(-60)">UNC8884-5uM</text><text transform="translate(318,996) rotate(-60)">UNC8884-10uM</text>
</g>
<text class="b" x="262" y="837" font-size="19">Day 12 + 72h Dex</text>
<rect class="fr" x="264" y="845" width="18" height="15"/><rect class="fo" x="264" y="865" width="18" height="15"/>
<g class="lg"><text x="290" y="859">DMSO</text><text x="290" y="879">Dex</text></g>

<!-- Panel J -->
<line class="ax" x1="522" y1="818" x2="522" y2="984"/><line class="ax" x1="521" y1="983" x2="764" y2="983"/>
<g stroke="#000" stroke-width="2"><line x1="516" y1="834" x2="522" y2="834"/><line x1="516" y1="871" x2="522" y2="871"/><line x1="516" y1="909" x2="522" y2="909"/><line x1="516" y1="946" x2="522" y2="946"/><line x1="516" y1="983" x2="522" y2="983"/>
<line x1="546" y1="983" x2="546" y2="989"/><line x1="594" y1="983" x2="594" y2="989"/><line x1="643" y1="983" x2="643" y2="989"/><line x1="691" y1="983" x2="691" y2="989"/><line x1="740" y1="983" x2="740" y2="989"/></g>
<g class="tk" text-anchor="end"><text x="515" y="840">20</text><text x="515" y="877">15</text><text x="515" y="915">10</text><text x="515" y="952">5</text><text x="515" y="989">0</text></g>
<text class="yl" transform="translate(494,912) rotate(-90)" text-anchor="middle">Apoptosis (%)</text>
<g transform="translate(0,983) scale(1,-7.45)">
<rect class="fr" x="531" y="0" width="14" height="5.3"/><rect class="fo" x="548" y="0" width="14" height="5.3"/>
<rect class="fr" x="579" y="0" width="14" height="8.1"/><rect class="fo" x="596" y="0" width="14" height="17.8"/>
<rect class="fr" x="628" y="0" width="14" height="8.7"/><rect class="fo" x="645" y="0" width="14" height="17.8"/>
<rect class="fr" x="676" y="0" width="14" height="4.1"/><rect class="fo" x="693" y="0" width="14" height="4.8"/>
<rect class="fr" x="724" y="0" width="14" height="4.3"/><rect class="fo" x="741" y="0" width="14" height="5.8"/>
</g>
<g stroke="#000" stroke-width="1.5"><line x1="538" y1="936" x2="538" y2="955"/><line x1="603" y1="836" x2="603" y2="863"/><line x1="652" y1="836" x2="652" y2="864"/><line x1="635" y1="911" x2="635" y2="924"/><line x1="586" y1="917" x2="586" y2="927"/><line x1="555" y1="938" x2="555" y2="948"/><line x1="748" y1="932" x2="748" y2="946"/></g>
<g class="br"><path d="M586,822 V816 H603 V822"/><path d="M635,820 V814 H652 V820"/></g>
<g class="st" text-anchor="middle"><text x="594" y="810">&lt;0.0001</text><text x="646" y="806">&lt;0.0001</text></g>
<g class="rl it" text-anchor="end">
<text transform="translate(551,995) rotate(-60)">DMSO</text><text transform="translate(599,995) rotate(-60)">UNC8732-5uM</text><text transform="translate(648,995) rotate(-60)">UNC8732-10uM</text><text transform="translate(696,995) rotate(-60)">UNC8884-5uM</text><text transform="translate(745,995) rotate(-60)">UNC8884-10uM</text>
</g>
<text class="b" x="690" y="841" font-size="19">Day 15 + 72h Dex</text>
<rect class="fr" x="692" y="850" width="18" height="15"/><rect class="fo" x="692" y="870" width="18" height="15"/>
<g class="lg"><text x="718" y="864">DMSO</text><text x="718" y="884">Dex</text></g>
</svg>
</body></html>
